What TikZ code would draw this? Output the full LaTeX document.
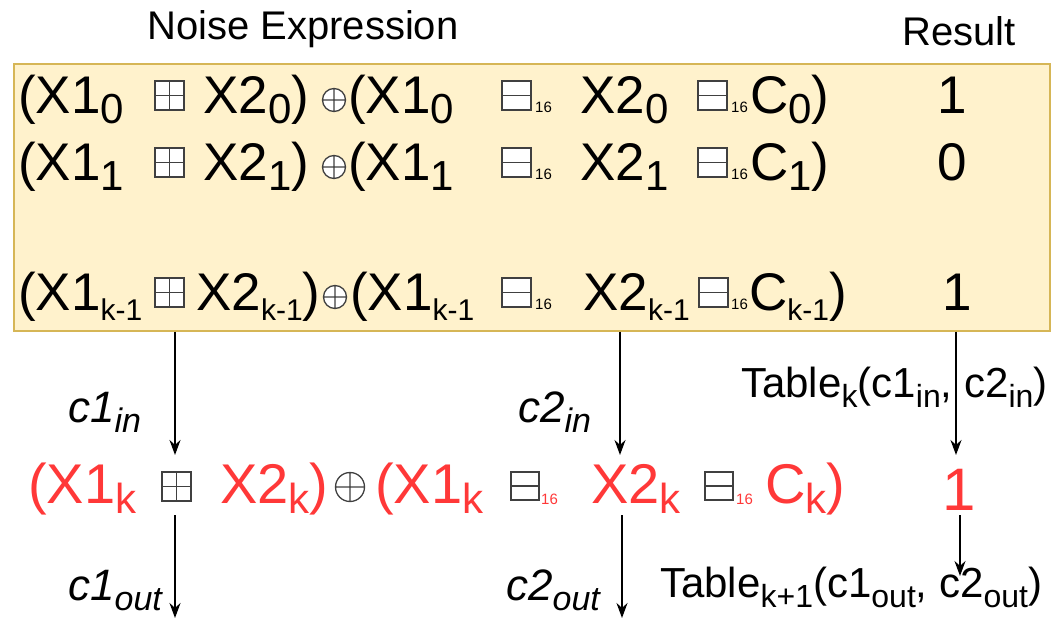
\documentclass[tikz,border=0pt]{standalone}
\usepackage{fontspec}
\setmainfont{Liberation Sans}
\usetikzlibrary{arrows.meta}
\definecolor{noisefill}{RGB}{255,242,204}
\definecolor{noiseline}{RGB}{214,182,86}
\definecolor{curred}{RGB}{255,56,56}
% lowered index text
\newcommand{\lo}[2][42]{\raisebox{-10pt}{\fontsize{#1}{#1}\selectfont #2}}
% modular add / sub / xor symbols (left, top, size) and (centre x, centre y, radius)
\newcommand{\opadd}[3]{\draw[op] (#1,#2) rectangle ++(#3,#3) (#1+#3/2,#2) -- ++(0,#3) (#1,#2+#3/2) -- ++(#3,0);}
\newcommand{\opsub}[3]{\draw[op] (#1,#2) rectangle ++(#3,#3) (#1,#2+#3/2) -- ++(#3,0);}
\newcommand{\opxor}[3]{\draw[op] (#1,#2) circle[radius=#3] (#1-#3,#2) -- ++(2*#3,0) (#1,#2-#3) -- ++(0,2*#3);}
\begin{document}
\begin{tikzpicture}[x=1pt,y=-1pt,
  expr/.style={anchor=base west,inner sep=0pt,font=\fontsize{53}{60}\selectfont},
  cur/.style={expr,text=curred,font=\fontsize{56}{62}\selectfont},
  head/.style={anchor=base west,inner sep=0pt,font=\fontsize{40}{48}\selectfont},
  tab/.style={anchor=base west,inner sep=0pt,font=\fontsize{42}{48}\selectfont},
  clab/.style={anchor=base west,inner sep=0pt,font=\fontsize{44}{50}\selectfont\itshape},
  mod/.style={anchor=base west,inner sep=0pt,font=\fontsize{15}{18}\selectfont},
  op/.style={draw=black!75,fill=white,line width=1.3pt},
  flow/.style={-{Stealth[length=15pt,width=11pt]},line width=1.4pt}]
\useasboundingbox (0,0) rectangle (1057,618);
% noise table
\node[draw=noiseline,fill=noisefill,line width=1.2pt,minimum width=1036pt,minimum height=267pt,inner sep=0pt] (noisebox) at (532,197.5) {};
\node[head] (exprhead) at (147,40) {Noise Expression};
\node[head] (reshead) at (902,46) {Result};
% row 0
\node[expr] (r0a) at (18,113) {(X1\lo{0}};
\opadd{155}{81}{29}
\node[expr] (r0b) at (203,113) {X2\lo{0})};
\opxor{334}{100}{11.5}
\node[expr] (r0c) at (348,113) {(X1\lo{0}};
\opsub{502}{81}{29}
\node[mod] at (535,112) {16};
\node[expr] (r0d) at (580,113) {X2\lo{0}};
\opsub{698}{81}{29}
\node[mod] at (731,112) {16};
\node[expr] (r0e) at (750,113) {C\lo{0})};
\node[expr] (r0r) at (937,113) {1};
% row 1
\node[expr] (r1a) at (18,180) {(X1\lo{1}};
\opadd{155}{148}{29}
\node[expr] (r1b) at (203,180) {X2\lo{1})};
\opxor{334}{167}{11.5}
\node[expr] (r1c) at (348,180) {(X1\lo{1}};
\opsub{502}{148}{29}
\node[mod] at (535,179) {16};
\node[expr] (r1d) at (580,180) {X2\lo{1}};
\opsub{698}{148}{29}
\node[mod] at (731,179) {16};
\node[expr] (r1e) at (750,180) {C\lo{1})};
\node[expr] (r1r) at (937,180) {0};
% row k-1
\node[expr] (rpa) at (18,310) {(X1\lo[30]{k-1}};
\opadd{155}{278}{29}
\node[expr] (rpb) at (196,310) {X2\lo[30]{k-1})};
\opxor{335}{297}{11.5}
\node[expr] (rpc) at (350,310) {(X1\lo[30]{k-1}};
\opsub{502}{278}{29}
\node[mod] at (535,309) {16};
\node[expr] (rpd) at (583,310) {X2\lo[30]{k-1}};
\opsub{699}{278}{29}
\node[mod] at (731,309) {16};
\node[expr] (rpe) at (749,310) {C\lo[30]{k-1})};
\node[expr] (rpr) at (942,310) {1};
% current row k
\node[cur] (rka) at (28,503) {(X1\lo{k}};
\opadd{162}{472}{29}
\node[cur] (rkb) at (220,503) {X2\lo{k})};
\opxor{350}{487}{14.5}
\node[cur] (rkc) at (375,503) {(X1\lo{k}};
\opsub{511}{472}{28}
\node[mod,text=curred] at (541,504) {16};
\node[cur] (rkd) at (591,503) {X2\lo{k}};
\opsub{705}{472}{28}
\node[mod,text=curred] at (736,504) {16};
\node[cur] (rke) at (765,503) {C\lo{k})};
\node[cur,font=\fontsize{60}{66}\selectfont] (rkr) at (942,510) {1};
% carries
\node[clab] (c1in) at (68,422) {c1\lo[34]{in}};
\node[clab] (c2in) at (518,422) {c2\lo[34]{in}};
\node[tab] (tabin) at (741,397) {Table\lo[32]{k}(c1\lo[32]{in}, c2\lo[32]{in})};
\node[clab] (c1out) at (68,600) {c1\lo[34]{out}};
\node[clab] (c2out) at (506,600) {c2\lo[34]{out}};
\node[tab] (tabout) at (660,597) {Table\lo[32]{k+1}(c1\lo[32]{out}, c2\lo[32]{out})};
\coordinate (c1tip) at (175,455);
\coordinate (c2tip) at (620,455);
\coordinate (rtip) at (956,455);
\coordinate (c1from) at (175,515);
\coordinate (c1end) at (175,618);
\coordinate (c2from) at (622,515);
\coordinate (c2end) at (622,618);
\coordinate (rfrom) at (960,515);
\coordinate (rend) at (960,576);
\draw[flow] (noisebox.south -| c1tip) -- (c1tip);
\draw[flow] (noisebox.south -| c2tip) -- (c2tip);
\draw[flow] (noisebox.south -| rtip) -- (rtip);
\draw[flow] (c1from) -- (c1end);
\draw[flow] (c2from) -- (c2end);
\draw[flow] (rfrom) -- (rend);
\end{tikzpicture}
\end{document}
